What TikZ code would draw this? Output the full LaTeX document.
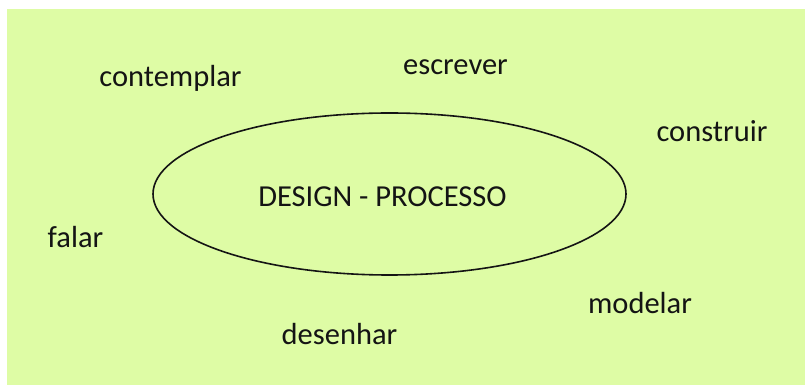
\documentclass[tikz,border=0pt]{standalone}
\usepackage{fontspec}
\setmainfont{Carlito}
\usetikzlibrary{shapes.geometric}
\definecolor{bgreen}{RGB}{222,252,165}
\definecolor{ink}{RGB}{20,20,20}
\begin{document}
\begin{tikzpicture}[x=1pt,y=1pt,
  word/.style={anchor=base,inner sep=0pt,text=ink,font=\fontsize{30.5}{36}\selectfont},
  ring/.style={draw=ink,line width=1.6pt,ellipse,minimum width=473pt,minimum height=162pt,inner sep=0pt}]
  \useasboundingbox (0,0) rectangle (805,385);
  \fill[white] (0,0) rectangle (805,385);
  \fill[bgreen] (7,0) rectangle (805,376);
  % central process
  \node[ring] (ring) at (389.5,191) {};
  \node[word] (core) at (382.5,178) {DESIGN - PROCESSO};
  % surrounding activities
  \node[word] (contemplar) at (170.5,298) {contemplar};
  \node[word] (escrever) at (455.5,310) {escrever};
  \node[word] (construir) at (712,243) {construir};
  \node[word] (falar) at (75.5,137) {falar};
  \node[word] (modelar) at (640,71) {modelar};
  \node[word] (desenhar) at (339.5,40) {desenhar};
\end{tikzpicture}
\end{document}
